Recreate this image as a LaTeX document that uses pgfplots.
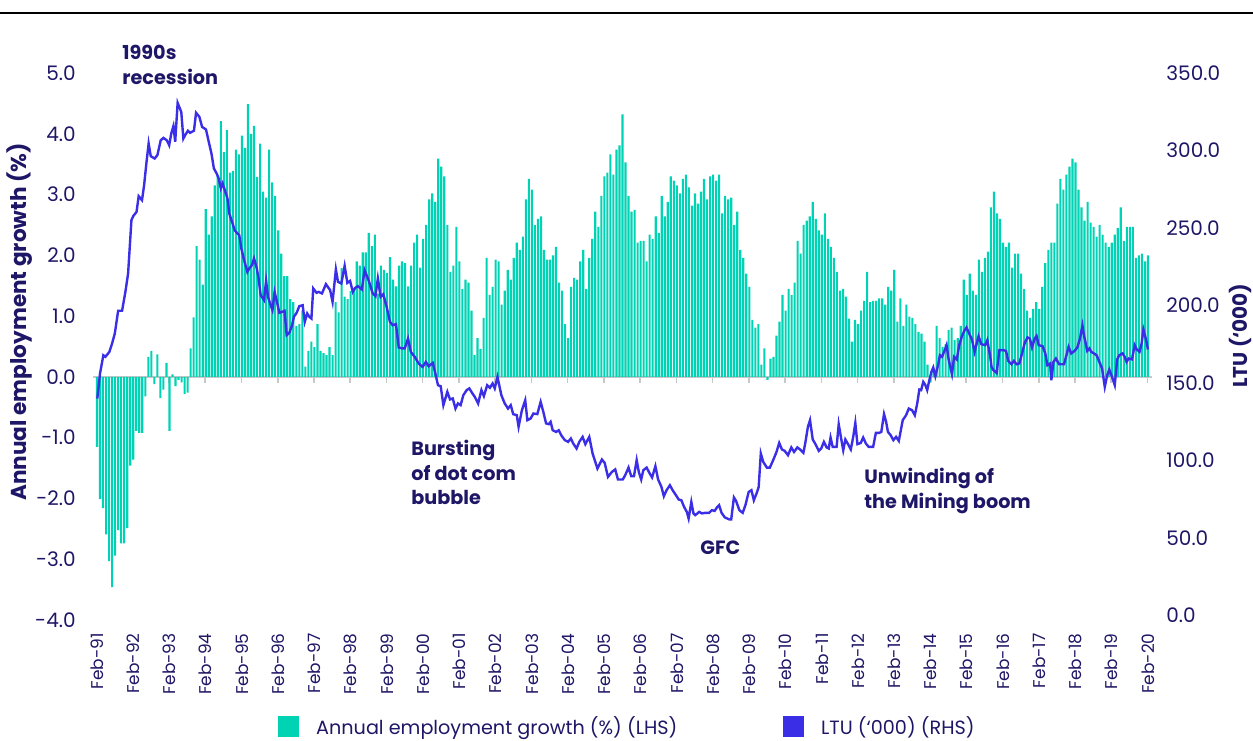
\documentclass[border=0pt]{standalone}
\usepackage{pgfplots}
\pgfplotsset{compat=1.18}
\usepackage{fontspec}
\setmainfont{Poppins}
\definecolor{barc}{RGB}{0,210,180}
\definecolor{linec}{RGB}{58,46,230}
\definecolor{navy}{RGB}{30,22,102}
\definecolor{zgray}{RGB}{200,200,200}
% pixel position of the reference -> picture coordinates (plot box at 93..1152 x 73..620)
\newcommand{\px}[2]{({((#1)-93)*0.5pt},{(620-(#2))*0.5pt})}

\begin{document}
\begin{tikzpicture}
\pgfplotsset{base/.style={
  scale only axis, width=529.5pt, height=273.5pt, at={(0,0)}, anchor=south west,
  xmin=-1.325, xmax=349.34, axis line style={draw=none}, major tick length=0pt,
  tick label style={font=\fontsize{10}{12}\selectfont, text=navy, inner sep=0pt},
}}
\path[use as bounding box] \px{0}{0} rectangle \px{1253}{740};
\draw[black, line width=0.6pt] \px{0}{13} -- \px{1253}{13};
\draw[zgray, line width=0.9pt] \px{93}{377} -- \px{1152}{377};
\foreach \m in {0,12,...,348} \draw[zgray, line width=0.8pt] \px{96.5+3.02*\m}{377} -- \px{96.5+3.02*\m}{383};

\begin{axis}[base, ymin=-4, ymax=5,
  ytick={-4,...,5}, yticklabels={-4.0,-3.0,-2.0,-1.0,0.0,1.0,2.0,3.0,4.0,5.0},
  yticklabel shift=8.5pt,
  xtick={0,12,...,348},
  xticklabels={Feb-91,Feb-92,Feb-93,Feb-94,Feb-95,Feb-96,Feb-97,Feb-98,Feb-99,Feb-00,Feb-01,Feb-02,Feb-03,Feb-04,Feb-05,Feb-06,Feb-07,Feb-08,Feb-09,Feb-10,Feb-11,Feb-12,Feb-13,Feb-14,Feb-15,Feb-16,Feb-17,Feb-18,Feb-19,Feb-20},
  xticklabel style={rotate=90, anchor=east, font=\fontsize{8.5}{10}\selectfont},
  xticklabel shift=6.5pt,
  ylabel={Annual employment growth (\%)},
  ylabel style={at={(axis description cs:-0.0689,0.545)}, anchor=center, font=\bfseries\fontsize{10.8}{12}\selectfont, text=navy},
  legend columns=2,
  legend style={at={(axis description cs:0.1747,-0.1956)}, anchor=west, draw=none, fill=none, inner sep=0pt,
    font=\fontsize{9.6}{11}\selectfont, text=navy,
    /tikz/every odd column/.append style={column sep=6.5pt},
    /tikz/every even column/.append style={column sep=51pt}},
]
\addplot[ybar, bar width=0.7, fill=barc, draw=none, forget plot]
  table[row sep=\\, x expr=\coordindex, y=v] {v\\
-1.15\\-2.01\\-2.16\\-2.59\\-3.03\\-3.46\\-2.94\\-2.52\\-2.74\\-2.74\\-2.49\\-1.46\\-1.36\\-0.89\\-0.92\\-0.92\\-0.32\\0.33\\0.43\\-0.12\\0.37\\-0.35\\-0.21\\0.23\\-0.89\\0.04\\-0.15\\-0.05\\-0.09\\
-0.28\\-0.26\\0.47\\0.98\\2.15\\1.93\\1.52\\2.76\\2.34\\2.64\\3.15\\3.31\\4.21\\3.70\\4.06\\3.36\\3.39\\3.74\\3.66\\3.97\\3.77\\4.49\\4.00\\4.13\\3.29\\3.84\\3.05\\2.95\\3.74\\3.20\\
2.98\\2.41\\2.03\\1.66\\1.66\\1.28\\1.23\\0.84\\0.87\\1.09\\0.17\\0.43\\0.58\\0.49\\0.87\\0.43\\0.39\\0.36\\0.49\\0.36\\1.23\\1.06\\1.79\\1.32\\1.28\\1.41\\1.41\\1.90\\1.83\\2.05\\
2.05\\2.37\\2.15\\2.34\\1.37\\1.83\\1.76\\1.71\\1.97\\1.60\\1.49\\1.83\\1.90\\1.87\\1.49\\1.83\\2.21\\2.34\\1.80\\2.27\\2.50\\2.92\\3.02\\2.88\\3.59\\3.46\\3.30\\2.50\\1.73\\1.83\\
2.47\\1.90\\1.45\\1.60\\1.55\\1.09\\0.36\\0.64\\0.46\\0.97\\1.96\\1.35\\1.48\\1.93\\1.90\\1.19\\1.42\\1.76\\1.60\\1.96\\2.21\\2.09\\2.31\\2.92\\3.26\\3.08\\2.50\\2.60\\2.64\\
2.09\\1.93\\1.93\\2.00\\2.14\\1.55\\1.42\\0.87\\0.64\\1.48\\1.63\\1.60\\1.90\\2.09\\1.45\\1.96\\2.27\\2.72\\2.47\\2.98\\3.30\\3.36\\3.66\\3.33\\3.74\\3.81\\4.32\\3.53\\2.98\\2.72\\2.75\\
2.21\\2.24\\2.24\\1.90\\2.34\\2.27\\2.64\\2.37\\2.98\\2.64\\2.88\\3.30\\3.23\\3.15\\3.02\\3.26\\3.33\\3.12\\2.82\\3.02\\2.85\\3.05\\3.26\\2.92\\3.30\\3.33\\3.23\\3.33\\2.69\\2.98\\
2.92\\2.95\\2.50\\2.72\\2.09\\1.96\\1.70\\1.48\\0.94\\0.81\\0.87\\0.20\\0.47\\-0.05\\0.30\\0.33\\0.68\\0.91\\1.35\\1.09\\1.45\\1.35\\1.55\\2.24\\2.03\\2.50\\2.57\\2.64\\2.88\\
2.60\\2.41\\2.34\\2.69\\2.27\\2.14\\1.96\\1.73\\1.42\\1.45\\1.32\\0.96\\0.58\\0.94\\0.87\\1.09\\1.25\\1.73\\1.23\\1.25\\1.25\\1.29\\1.29\\1.19\\1.48\\1.42\\1.76\\0.91\\1.29\\0.84\\
1.19\\0.99\\0.97\\0.87\\0.74\\0.71\\0.58\\0.20\\-0.09\\0.13\\0.84\\0.64\\0.49\\0.54\\0.77\\0.81\\0.61\\0.64\\0.84\\1.60\\1.35\\1.70\\1.42\\1.35\\1.93\\1.73\\1.96\\2.06\\2.79\\3.05\\
2.69\\2.60\\2.21\\2.14\\2.21\\1.80\\2.03\\2.03\\1.70\\1.45\\1.09\\0.97\\1.12\\1.23\\1.12\\1.48\\1.87\\2.09\\2.21\\2.21\\2.85\\3.26\\3.08\\3.33\\3.46\\3.59\\3.53\\3.08\\2.79\\
2.57\\2.88\\2.54\\2.47\\2.31\\2.50\\2.34\\2.21\\2.14\\2.21\\2.34\\2.45\\2.79\\2.24\\2.47\\2.47\\2.47\\1.96\\2.00\\2.03\\1.90\\2.00\\
};
\addlegendimage{legend image code/.code={\fill[barc] (0pt,-4.5pt) rectangle (10pt,5.5pt);}}
\addlegendimage{legend image code/.code={\fill[linec] (0pt,-4.5pt) rectangle (10pt,5.5pt);}}
\legend{Annual employment growth (\%) (LHS), LTU (‘000) (RHS)}
\end{axis}

\begin{axis}[base, ymin=-3.1, ymax=350, axis x line=none,
  ytick={0,50,...,350}, yticklabels={0.0,50.0,100.0,150.0,200.0,250.0,300.0,350.0},
  yticklabel pos=right, yticklabel shift=7pt,
  yticklabel style={anchor=west},
  ylabel={LTU (‘000)},
  ylabel style={at={(axis description cs:1.0835,0.52)}, anchor=center, rotate=0, font=\bfseries\fontsize{10}{12}\selectfont, text=navy},
]
\addplot[linec, line width=1.2pt] table[row sep=\\] {x y\\
0.1 139.9\\1 156\\2.1 167.8\\2.8 166.8\\4.1 170\\5 175.4\\5.9 181.9\\7 196.5\\8.3 196.5\\9.4 208.7\\10.3 220.6\\11.4 255\\12 257.6\\13.1 260.4\\13.8 270.5\\14.9 267.9\\15.6 277.6\\16.4 292.6\\17.1 304.5\\17.8 296.3\\19.1 294.8\\20 297\\21.1 306.6\\22 308.1\\23.1 306.6\\23.9 303.4\\24.6 311\\25.3 315.7\\25.9 305.6\\26.7 330.7\\27.9 324.9\\28.6 307.7\\29.2 309.9\\30.1 312.7\\30.8 311.4\\32.1 312.7\\32.8 324.3\\33.9 321.7\\34.8 315.2\\36.1 313.5\\37 305.6\\37.9 298\\38.7 288.4\\39.6 285.2\\40.3 281.9\\41 275.5\\41.6 278.7\\42.5 273.3\\43.2 269\\43.8 259.3\\44.7 253.9\\45.6 248.5\\46.5 246.4\\47.1 245.3\\47.8 236.7\\48.7 229.2\\49.8 221.6\\50.4 223.8\\51.3 226\\52 230.3\\52.9 223.8\\53.5 217.4\\54.2 206.6\\55.3 203.4\\56 215.8\\56.6 205.5\\57.5 200.1\\58.1 196.9\\
58.8 208.7\\59.7 201.2\\60.4 195.2\\61.3 195.8\\62.1 196.5\\62.8 180.8\\63.7 182.3\\64.6 187.2\\65.2 192.6\\66.1 195.2\\67 199.5\\68.1 200.1\\68.8 189.4\\69.6 194.8\\70.3 192.6\\71 191.5\\71.6 210.9\\72.7 208.1\\73.4 208.7\\74.5 207.7\\75.8 213.7\\77.2 209.8\\78 202.3\\79.1 223.2\\79.8 215.2\\80.9 214.1\\82 225.5\\82.9 214.5\\83.8 215.8\\84.7 208.7\\85.5 211.3\\86.4 212.4\\87.7 210.3\\88.6 222.7\\90 215.8\\91.3 207.7\\92.2 205.9\\93 217.4\\93.9 205.5\\94.8 207.2\\95.9 199\\97 189.4\\97.9 187.2\\99 187.9\\99.9 172.8\\101.2 172.2\\101.9 172.2\\103 178.6\\103.9 170\\105.2 166.8\\106.5 162.5\\107.8 160.3\\108.9 163.5\\109.8 160.7\\111.2 162.9\\112.3 153.8\\112.9 148.5\\113.8 147.8\\114.7 135.6\\116 144.2\\116.9 139.3\\117.8 139.9\\
118.7 133.4\\119.5 136.7\\120.4 135.6\\121.3 142\\122.4 145.3\\123.3 146.4\\124.2 143.5\\125.1 140.9\\126.2 136.7\\127.3 145.3\\128.1 141.4\\129.2 148.5\\130.1 146.8\\131 149.6\\131.7 146.4\\132.6 153.8\\133.9 142\\135 136.7\\136.1 133.4\\137 135.6\\137.8 129.8\\139 129.1\\139.6 121.6\\140.7 132.3\\141.8 138.8\\142.5 125.9\\143.6 127\\144.5 130.2\\145.8 129.8\\146.9 137.7\\147.8 131.2\\148.7 123.8\\149.6 123.3\\150.2 124.8\\150.9 119.4\\152 118.3\\152.9 119.4\\153.7 116.2\\154.9 113\\156 111.9\\156.9 114.1\\157.7 110.8\\158.8 107.6\\159.7 111.9\\160.8 115.1\\161.7 110.4\\163 115.1\\164.1 104.4\\165.7 94.7\\167.2 100.5\\168.1 98.3\\169.2 89.3\\170.5 92.5\\171.6 94.1\\172.5 87.6\\174.1 87.6\\174.9 90.4\\176 95.3\\176.9 89.7\\177.8 89.7\\
178.7 100.1\\179.4 92.5\\180.2 87.6\\180.9 93.6\\182 95.3\\182.9 91.9\\183.8 88.9\\184.9 96.2\\185.8 87.6\\186.9 82.8\\187.7 76.8\\188.6 80.7\\189.7 83.9\\190.6 80.7\\191.7 77.5\\192.6 74.7\\193.5 74.2\\194.4 69.9\\195.3 66.7\\195.9 62.4\\196.8 73.1\\197.5 65.7\\198.1 64.6\\198.8 65.7\\199.4 66.7\\200.3 65.7\\201.4 66.1\\202.7 66.1\\203.6 67.8\\204.5 67.3\\205.4 69.9\\206 71\\206.8 66.1\\207.9 63.1\\209.4 61.8\\210 61.8\\210.9 76\\211.6 73.8\\212.7 67.8\\213.8 66.1\\214.7 71\\215.8 79.6\\216.7 80.7\\217.5 74.2\\218.4 78.6\\219.1 82.8\\219.8 104.4\\220.6 99\\221.8 95.3\\222.8 95.3\\223.9 100.1\\225 105.4\\225.9 111.2\\226.8 107\\227.7 106.1\\228.8 103.3\\229.9 108.3\\230.8 105.4\\231.9 108.3\\232.8 107\\233.9 104.8\\234.5 110.8\\235.4 121.6\\236.1 125.9\\237 113.4\\
237.8 110.8\\239 106.1\\239.8 107.6\\240.7 111.9\\241.6 108.3\\242.3 107.6\\242.9 114.7\\243.6 108.7\\244.9 108.7\\245.6 123.3\\246.5 113\\247.1 106.5\\247.8 113.4\\248.7 110.4\\249.6 107\\250.4 115.1\\251.1 124.1\\251.8 110.4\\252.9 111.2\\253.7 114.7\\254.6 110.8\\255.5 108.7\\257 108.7\\257.9 117.7\\259 117.7\\259.7 118.3\\260.6 129.8\\261.3 124.8\\261.9 118.3\\262.8 116.2\\263.7 113\\264.6 115.1\\265.5 112.5\\266.8 125.9\\267.9 129.1\\268.8 133.4\\269.9 132.3\\270.8 129.1\\271.6 136.7\\272.3 145.7\\272.9 145.3\\273.6 150.6\\274.3 148.5\\274.9 145.3\\275.6 151.7\\276.3 157.1\\276.9 159.9\\277.6 154.3\\278.5 161.4\\279.1 167.8\\279.8 166.8\\280.7 171.1\\281.3 174.3\\282 165.1\\283.1 155.6\\283.8 166.8\\284.7 165.1\\285.5 174.3\\286.4 180.1\\287.3 184\\287.9 185.7\\288.8 181.9\\289.7 178\\290.6 170\\291.3 175.4\\291.9 180.1\\292.8 175\\294.1 174.3\\294.8 177.5\\295.7 167.8\\296.2 160.3\\
296.8 158.2\\297.9 156.4\\298.8 171.1\\300.1 171.1\\301 170.6\\301.7 164.2\\302.8 162\\303.6 164.2\\304.5 162\\305.4 162.5\\306.3 169\\307.2 175.8\\308.1 179.3\\308.9 178.6\\309.6 172.8\\310.5 178.6\\311.1 180.3\\311.8 174.3\\313.1 173.7\\314 169\\314.7 161.4\\315.6 162.5\\316 151.7\\316.7 163.5\\317.5 165.7\\318.6 162\\320.2 162\\321 167.8\\321.7 173.2\\322.6 169\\323.7 170.6\\324.6 172.8\\325.5 178.6\\326.3 187\\326.8 180.8\\327.9 170.6\\328.6 172.2\\329.2 170\\330.1 169\\331 167.8\\331.9 163.5\\332.8 159.3\\333.7 147.4\\334.5 154.9\\335.2 158.6\\336.1 153.8\\337 148.5\\337.8 165.1\\338.5 167.8\\339.6 169\\340.3 166.8\\340.9 163.5\\341.6 165.7\\342.7 165.1\\343.6 174.3\\344.3 171.5\\345.2 170\\345.9 175.4\\346.5 184.4\\347.4 177.5\\348 171.5\\
};
\end{axis}

\begin{scope}[every node/.style={inner sep=0pt, anchor=north west, align=left, text=navy, font=\bfseries\fontsize{9.6}{12.2}\selectfont}]
\node at \px{122}{45} {1990s\\recession};
\node at \px{411}{440} {Bursting\\of dot com\\bubble};
\node at \px{700}{540} {GFC};
\node at \px{864}{468} {Unwinding of\\the Mining boom};
\end{scope}
\end{tikzpicture}
\end{document}
